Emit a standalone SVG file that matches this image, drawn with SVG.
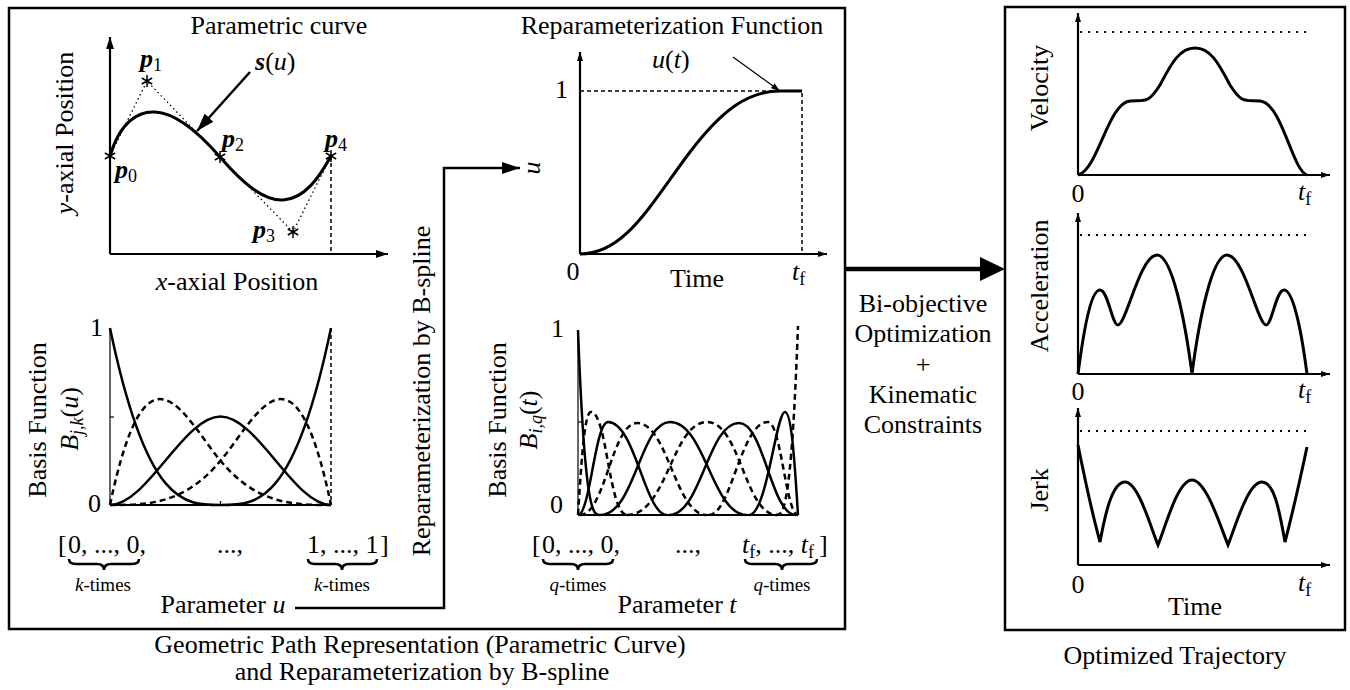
<svg xmlns="http://www.w3.org/2000/svg" width="1350" height="690" viewBox="0 0 1350 690">
<style>
.t{font-family:"Liberation Serif","DejaVu Serif",serif;font-size:26px;fill:#000}
.i{font-style:italic}
.b{font-weight:bold;font-style:italic}
.sm{font-size:19px}
.sub{font-size:18px;font-weight:normal;font-style:normal}
.subi{font-size:18px;font-weight:normal;font-style:italic}
.box{fill:none;stroke:#000;stroke-width:2.5}
.ax{fill:none;stroke:#000;stroke-width:2.2}
.thin{fill:none;stroke:#000;stroke-width:1.2}
.c{fill:none;stroke:#000;stroke-width:3}
.cb{fill:none;stroke:#000;stroke-width:2.5}
.d{stroke-dasharray:6,4}
.dl{fill:none;stroke:#000;stroke-width:1.5;stroke-dasharray:4,3}
.dot{fill:none;stroke:#000;stroke-width:1.3;stroke-dasharray:1.5,3}
.dot2{fill:none;stroke:#000;stroke-width:2;stroke-dasharray:2,6}
.conn{fill:none;stroke:#000;stroke-width:2.5}
</style>
<defs>
<marker id="ah" viewBox="0 0 12 8" refX="12" refY="4" markerWidth="12" markerHeight="8" orient="auto" markerUnits="userSpaceOnUse"><path d="M0,0L12,4L0,8z" fill="#000"/></marker>
<marker id="ahs" viewBox="0 0 9 6" refX="9" refY="3" markerWidth="9" markerHeight="6" orient="auto" markerUnits="userSpaceOnUse"><path d="M0,0L9,3L0,6z" fill="#000"/></marker>
<marker id="ahb" viewBox="0 0 18 12" refX="18" refY="6" markerWidth="18" markerHeight="12" orient="auto" markerUnits="userSpaceOnUse"><path d="M0,0L18,6L0,12z" fill="#000"/></marker>
<g id="star"><path d="M0,-6V6M-5.2,-3L5.2,3M-5.2,3L5.2,-3" stroke="#000" stroke-width="1.5" fill="none"/></g>
</defs>
<rect width="1350" height="690" fill="#fff"/>

<g id="box-left"><rect class="box" x="9" y="8" width="836" height="621"/></g>
<g id="box-right"><rect class="box" x="1005" y="7" width="340" height="623"/></g>

<g id="plot-parametric">
<text class="t" x="279" y="34" text-anchor="middle">Parametric curve</text>
<line class="ax" x1="110" y1="254" x2="110" y2="37" marker-end="url(#ah)"/>
<line class="ax" x1="110" y1="254" x2="388" y2="254" marker-end="url(#ah)"/>
<polyline class="dot" points="110,156 147,81 220,157 293,232 331,156"/>
<path class="c" d="M110,156 C120,122 138,111 155,112 C177,113 200,134 220,157 C240,180 262,201 283,200 C305,199 320,176 331,156"/>
<line class="dl" x1="331" y1="156" x2="331" y2="254"/>
<use href="#star" x="110" y="156"/>
<use href="#star" x="147" y="81"/>
<use href="#star" x="220" y="157"/>
<use href="#star" x="293" y="232"/>
<use href="#star" x="331" y="156"/>
<text class="t b" x="115" y="178">p<tspan class="sub" dy="4">0</tspan></text>
<text class="t b" x="140" y="67">p<tspan class="sub" dy="4">1</tspan></text>
<text class="t b" x="222" y="147">p<tspan class="sub" dy="4">2</tspan></text>
<text class="t b" x="253" y="238">p<tspan class="sub" dy="4">3</tspan></text>
<text class="t b" x="325" y="147">p<tspan class="sub" dy="4">4</tspan></text>
<text class="t" x="255" y="70"><tspan class="b">s</tspan>(<tspan class="i">u</tspan>)</text>
<line class="cb" x1="250" y1="72" x2="197" y2="131" marker-end="url(#ahb)"/>
<text class="t" transform="translate(73,133) rotate(-90)" text-anchor="middle"><tspan class="i">y</tspan>-axial Position</text>
<text class="t" x="237" y="290" text-anchor="middle"><tspan class="i">x</tspan>-axial Position</text>
</g>

<g id="plot-reparam">
<text class="t" x="672" y="34" text-anchor="middle">Reparameterization Function</text>
<line class="ax" x1="580" y1="254" x2="580" y2="52" marker-end="url(#ahs)"/>
<line class="ax" x1="580" y1="254" x2="827" y2="254" marker-end="url(#ahs)"/>
<polyline class="dl" points="580,91 802,91 802,254"/>
<path class="c" d="M580,254 C625,254 650,205 690,152 C722,110 748,91 780,91 L802,91"/>
<text class="t" x="568" y="98" text-anchor="end">1</text>
<text class="t" x="573" y="280" text-anchor="middle">0</text>
<text class="t" x="697" y="287" text-anchor="middle">Time</text>
<text class="t" x="792" y="280"><tspan class="i">t</tspan><tspan class="sub" dy="5">f</tspan></text>
<text class="t" x="652" y="68"><tspan class="i">u</tspan>(<tspan class="i">t</tspan>)</text>
<line class="thin" x1="733" y1="57" x2="780" y2="91" marker-end="url(#ahs)"/>
<text class="t i" transform="translate(540,168) rotate(-90)" text-anchor="middle">u</text>
</g>

<g id="plot-basis-u">
<line class="thin" x1="110" y1="328" x2="110" y2="505"/>
<line class="thin" x1="110" y1="417" x2="114" y2="417"/>
<line class="thin" x1="220.5" y1="505" x2="220.5" y2="501"/>
<line class="ax" x1="110" y1="505" x2="331" y2="505"/>
<line class="dl" x1="331" y1="328" x2="331" y2="505"/>
<path class="cb" d="M110,328 C146.83,505 183.67,505 220.5,505"/>
<path class="cb d" d="M110,505 C146.83,328 183.67,416.5 220.5,460.75 C257.33,505 294.17,505 331,505"/>
<path class="cb" d="M110,505 C146.83,505 183.67,416.5 220.5,416.5 C257.33,416.5 294.17,505 331,505"/>
<path class="cb d" d="M110,505 C146.83,505 183.67,505 220.5,460.75 C257.33,416.5 294.17,328 331,505"/>
<path class="cb" d="M220.5,505 C257.33,505 294.17,505 331,328"/>
<text class="t" x="103" y="336" text-anchor="end">1</text>
<text class="t" x="101" y="512" text-anchor="end">0</text>
<text class="t" transform="translate(46,420) rotate(-90)" text-anchor="middle">Basis Function</text>
<text class="t" transform="translate(78,419) rotate(-90)" text-anchor="middle"><tspan class="i">B</tspan><tspan class="subi" dy="5">j,k</tspan><tspan dy="-5">(</tspan><tspan class="i">u</tspan>)</text>
<text class="t" x="58" y="553">[</text>
<text class="t" x="68" y="553">0, ..., 0,</text>
<text class="t" x="217" y="553">...,</text>
<text class="t" x="307" y="553">1, ..., 1</text>
<text class="t" x="380" y="553">]</text>
<path class="cb" d="M69,559 Q69,564 76,564 L97,564 Q104,564 104,570 Q104,564 111,564 L132,564 Q139,564 139,559"/>
<path class="cb" d="M308,559 Q308,564 315,564 L335,564 Q342,564 342,570 Q342,564 349,564 L370,564 Q377,564 377,559"/>
<text class="t sm" x="103" y="591" text-anchor="middle"><tspan class="i">k</tspan>-times</text>
<text class="t sm" x="342" y="591" text-anchor="middle"><tspan class="i">k</tspan>-times</text>
<text class="t" x="223" y="613" text-anchor="middle">Parameter <tspan class="i">u</tspan></text>
</g>

<g id="label-reparam-bspline">
<text class="t" transform="translate(430,391) rotate(-90)" text-anchor="middle">Reparameterization by B-spline</text>
</g>

<g id="plot-basis-t">
<line class="thin" x1="578" y1="330" x2="578" y2="515"/>
<line class="thin" x1="578" y1="422" x2="582" y2="422"/>
<line class="ax" x1="578" y1="515" x2="798" y2="515"/>
<path class="cb" d="M578,330 C585,515 593,515 600,515"/>
<path class="cb d" d="M578,515 C582,450 585,412 591,412 C607,412 609,515 627,515"/>
<path class="cb" d="M578,515 C590,515 595,422 608,422 C635,422 645,515 667,515"/>
<path class="cb d" d="M580,515 C605,515 612,423 637,423 C668,423 675,515 707,515"/>
<path class="cb" d="M600,515 C635,515 640,422 670,422 C705,422 712,515 747,515"/>
<path class="cb d" d="M627,515 C667,515 672,422 707,422 C740,422 745,515 777,515"/>
<path class="cb" d="M669,515 C701,515 708,423 739,423 C764,423 771,515 796,515"/>
<path class="cb d" d="M709,515 C731,515 741,422 768,422 C781,422 786,515 798,515"/>
<path class="cb" d="M749,515 C767,515 776,412 785,412 C791,412 794,450 798,515"/>
<path class="cb d" d="M776,515 C783,515 791,515 798,326"/>
<text class="t" x="564" y="337" text-anchor="end">1</text>
<text class="t" x="563" y="513" text-anchor="end">0</text>
<text class="t" transform="translate(506,420) rotate(-90)" text-anchor="middle">Basis Function</text>
<text class="t" transform="translate(537,420) rotate(-90)" text-anchor="middle"><tspan class="i">B</tspan><tspan class="subi" dy="5">i,q</tspan><tspan dy="-5">(</tspan><tspan class="i">t</tspan>)</text>
<text class="t" x="532" y="553">[</text>
<text class="t" x="542" y="553">0, ..., 0,</text>
<text class="t" x="675" y="553">...,</text>
<text class="t" x="742" y="553"><tspan class="i">t</tspan><tspan class="sub" dy="5">f</tspan><tspan dy="-5">, ..., </tspan><tspan class="i">t</tspan><tspan class="sub" dy="5">f</tspan></text>
<text class="t" x="819" y="553">]</text>
<path class="cb" d="M543,559 Q543,564 550,564 L571,564 Q578,564 578,570 Q578,564 585,564 L606,564 Q613,564 613,559"/>
<path class="cb" d="M745,559 Q745,564 752,564 L775,564 Q782,564 782,570 Q782,564 789,564 L810,564 Q817,564 817,559"/>
<text class="t sm" x="578" y="591" text-anchor="middle"><tspan class="i">q</tspan>-times</text>
<text class="t sm" x="782" y="591" text-anchor="middle"><tspan class="i">q</tspan>-times</text>
<text class="t" x="677" y="613" text-anchor="middle">Parameter <tspan class="i">t</tspan></text>
</g>

<g id="middle-label">
<text class="t" x="923" y="312" text-anchor="middle">Bi-objective</text>
<text class="t" x="923" y="342" text-anchor="middle">Optimization</text>
<text class="t" x="923" y="373" text-anchor="middle">+</text>
<text class="t" x="923" y="403" text-anchor="middle">Kinematic</text>
<text class="t" x="923" y="433" text-anchor="middle">Constraints</text>
</g>

<g id="plot-velocity">
<line class="ax" x1="1078" y1="175" x2="1078" y2="13" marker-end="url(#ahs)"/>
<line class="ax" x1="1078" y1="175" x2="1330" y2="175" marker-end="url(#ahs)"/>
<line class="dot2" x1="1080" y1="32" x2="1312" y2="32"/>
<path class="c" d="M1078,175 C1098,170 1108,103 1130,101 C1145,100 1148,104 1160,85 C1172,62 1180,48 1195,48 C1210,48 1218,62 1230,85 C1242,104 1245,100 1260,101 C1282,103 1292,170 1307,175"/>
<text class="t" x="1078" y="202" text-anchor="middle">0</text>
<text class="t" x="1298" y="200"><tspan class="i">t</tspan><tspan class="sub" dy="5">f</tspan></text>
<text class="t" transform="translate(1048,88) rotate(-90)" text-anchor="middle">Velocity</text>
</g>

<g id="plot-accel">
<line class="ax" x1="1078" y1="374" x2="1078" y2="213" marker-end="url(#ahs)"/>
<line class="ax" x1="1078" y1="374" x2="1330" y2="374" marker-end="url(#ahs)"/>
<line class="dot2" x1="1080" y1="235" x2="1312" y2="235"/>
<path class="c" d="M1078,374 C1085,320 1092,290 1100,290 C1108,290 1112,325 1118,325 C1126,325 1140,255 1157,255 C1172,255 1185,320 1192,374 C1199,320 1212,255 1227,255 C1244,255 1258,325 1266,325 C1272,325 1276,290 1284,290 C1292,290 1300,320 1307,374"/>
<text class="t" x="1078" y="400" text-anchor="middle">0</text>
<text class="t" x="1298" y="398"><tspan class="i">t</tspan><tspan class="sub" dy="5">f</tspan></text>
<text class="t" transform="translate(1048,286) rotate(-90)" text-anchor="middle">Acceleration</text>
</g>

<g id="plot-jerk">
<line class="ax" x1="1078" y1="565" x2="1078" y2="408" marker-end="url(#ahs)"/>
<line class="ax" x1="1078" y1="565" x2="1330" y2="565" marker-end="url(#ahs)"/>
<line class="dot2" x1="1080" y1="431" x2="1312" y2="431"/>
<path class="c" d="M1078,445 C1086,485 1094,520 1100,542 C1105,515 1112,482 1125,482 C1138,482 1150,525 1158,545 C1166,525 1178,480 1192,480 C1206,480 1220,525 1228,545 C1236,525 1248,482 1262,482 C1275,482 1280,515 1285,542 C1292,515 1300,480 1307,447"/>
<text class="t" x="1078" y="593" text-anchor="middle">0</text>
<text class="t" x="1298" y="591"><tspan class="i">t</tspan><tspan class="sub" dy="5">f</tspan></text>
<text class="t" x="1195" y="615" text-anchor="middle">Time</text>
<text class="t" transform="translate(1048,490) rotate(-90)" text-anchor="middle">Jerk</text>
</g>

<g id="connectors">
<polyline class="conn" points="295,608 444,608 444,168 520,168" marker-end="url(#ahb)"/>
<line x1="845" y1="269" x2="985" y2="269" stroke="#000" stroke-width="4.5"/>
<polygon points="980,257 1005,269 980,281" fill="#000"/>
</g>

<g id="captions">
<text class="t" x="420" y="653" text-anchor="middle">Geometric Path Representation (Parametric Curve)</text>
<text class="t" x="422" y="680" text-anchor="middle">and Reparameterization by B-spline</text>
<text class="t" x="1175" y="664" text-anchor="middle">Optimized Trajectory</text>
</g>
</svg>
